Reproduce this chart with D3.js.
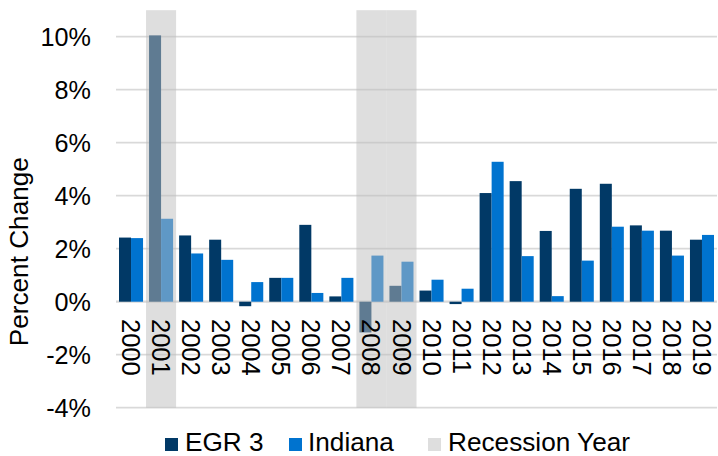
<!DOCTYPE html>
<html><head><meta charset="utf-8">
<script src="https://cdn.jsdelivr.net/npm/d3@7/dist/d3.min.js"></script>
<style>body{margin:0;background:#fff}svg{display:block;font-family:"Liberation Sans",Arial,sans-serif}</style>
</head><body><svg id="c" width="718" height="456"></svg>
<script>
const years = ["2000","2001","2002","2003","2004","2005","2006","2007","2008","2009","2010","2011","2012","2013","2014","2015","2016","2017","2018","2019"];
const egr3 = [2.42,10.05,2.50,2.34,-0.17,0.90,2.90,0.20,-1.16,0.60,0.42,-0.09,4.10,4.55,2.67,4.26,4.45,2.88,2.68,2.34];
const indiana = [2.40,3.13,1.82,1.58,0.74,0.90,0.33,0.90,1.74,1.51,0.83,0.49,5.28,1.72,0.21,1.55,2.83,2.68,1.74,2.52];
const recessionYears = ["2001","2008","2009"];
const yTicks = [-4,-2,0,2,4,6,8,10];
const seriesNames = ["EGR 3","Indiana","Recession Year"];
const colors = ["#013966","#0073cf","#dedede"];

const svg = d3.select("#c");
const L = 116, R = 717;
const y = d3.scaleLinear().domain([-4,10]).range([407.7,36.7]);
const x = d3.scaleBand().domain(years).range([L,R]).paddingInner(0.2).paddingOuter(0.1);
const xs = d3.scaleBand().domain([0,1]).range([0,x.bandwidth()]);
const step = x.step();
const bandStart = d => x(d) - step*0.1;

// gridlines
svg.append("g").selectAll("line").data(yTicks).join("line")
  .attr("x1",L).attr("x2",R).attr("y1",d=>y(d)).attr("y2",d=>y(d))
  .attr("stroke","#d9d9d9").attr("stroke-width",d=>d===0?2.2:1.8);

// bars
const series = [egr3, indiana];
series.forEach((vals,si)=>{
  svg.append("g").selectAll("rect").data(years).join("rect")
    .attr("x",(d)=>x(d)+xs(si))
    .attr("width",xs.bandwidth())
    .attr("y",(d,i)=>y(Math.max(0,vals[i])))
    .attr("height",(d,i)=>Math.abs(y(vals[i])-y(0)))
    .attr("fill",colors[si]);
});

// recession shading
svg.append("g").selectAll("rect").data(recessionYears).join("rect")
  .attr("x",d=>bandStart(d)).attr("width",step)
  .attr("y",y(11)).attr("height",y(-4)-y(11))
  .attr("fill","#bebebe").attr("fill-opacity",0.5);

// y axis labels
svg.append("g").selectAll("text").data(yTicks).join("text")
  .attr("x",91).attr("y",d=>y(d)).attr("dy","0.35em")
  .attr("text-anchor","end").attr("font-size",25.2).attr("fill","#000")
  .text(d=>d+"%");

// x labels
svg.append("g").selectAll("text").data(years).join("text")
  .attr("transform",d=>`translate(${x(d)+x.bandwidth()/2},319) rotate(90)`)
  .attr("dy","0.35em").attr("text-anchor","start").attr("font-size",25.5).attr("fill","#000")
  .text(d=>d);

// y title
svg.append("text").attr("transform","translate(28,251.7) rotate(-90)")
  .attr("text-anchor","middle").attr("font-size",26.2).text("Percent Change");

// legend
const legX = [165,289,428], legT=[185,308,448];
seriesNames.forEach((n,i)=>{
  svg.append("rect").attr("x",legX[i]).attr("y",438).attr("width",13).attr("height",13).attr("fill",colors[i]);
  svg.append("text").attr("x",legT[i]).attr("y",450.5).attr("font-size",26.2).text(n);
});
</script></body></html>
